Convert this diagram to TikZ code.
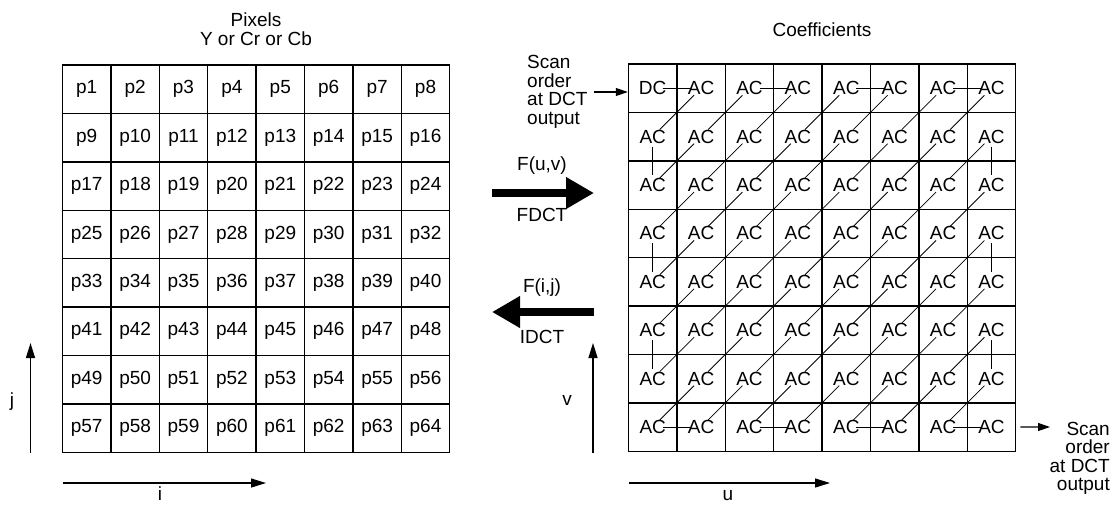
\documentclass[tikz,border=0pt]{standalone}
\usepackage{fontspec}
\setmainfont{Liberation Sans}
\usetikzlibrary{arrows.meta}
\begin{document}
\begin{tikzpicture}[x=1pt,y=-1pt,
  every node/.style={font=\fontsize{19}{18.5}\selectfont},
  cell/.style={draw,line width=1.4pt,minimum size=48.4pt,inner sep=0pt},
  scanline/.style={line width=0.8pt,shorten <=10pt,shorten >=10pt},
  scanarrow/.style={line width=1.1pt,-{Triangle[length=12pt,width=8pt]}},
  axis/.style={line width=1.3pt,-{Triangle[length=15pt,width=9pt]}},
  bigarrow/.style={line width=8pt,-{Triangle[length=28pt,width=30pt]}},
  txt/.style={inner sep=0pt}
]
\useasboundingbox (0,0) rectangle (1116,504);

% titles
\node[txt,align=center] (ttl) at (256,29) {Pixels\\Y or Cr or Cb};
\node[txt] (ttr) at (822,30) {Coefficients};

% left pixel grid
\foreach \r in {0,...,7}{
  \foreach \c in {0,...,7}{
    \pgfmathtruncatemacro\n{\r*8+\c+1}
    \node[cell] (p\n) at ({62.5+48.4*(\c+0.5)},{65+48.4*(\r+0.5)}) {p\n};
  }
}

% right coefficient grid
\foreach \r in {0,...,7}{
  \foreach \c in {0,...,7}{
    \ifnum\numexpr\r+\c\relax=0 \def\lbl{DC}\else\def\lbl{AC}\fi
    \node[cell] (a-\r-\c) at ({628.5+48.4*(\c+0.5)},{64+48.4*(\r+0.5)}) {\lbl};
  }
}

% zigzag scan
\foreach \r/\c [remember=\r as \pr (initially 0), remember=\c as \pc (initially 0)] in
 {0/1,1/0,2/0,1/1,0/2,0/3,1/2,2/1,3/0,4/0,3/1,2/2,1/3,0/4,0/5,1/4,2/3,3/2,4/1,5/0,
  6/0,5/1,4/2,3/3,2/4,1/5,0/6,0/7,1/6,2/5,3/4,4/3,5/2,6/1,7/0,7/1,6/2,5/3,4/4,3/5,
  2/6,1/7,2/7,3/6,4/5,5/4,6/3,7/2,7/3,6/4,5/5,4/6,3/7,4/7,5/6,6/5,7/4,7/5,6/6,5/7,
  6/7,7/6,7/7}{
  \draw[scanline] (a-\pr-\pc.center) -- (a-\r-\c.center);
}

% scan order labels
\node[txt,align=left,anchor=west] (scanin) at (527,92) {Scan\\order\\at DCT\\output};
\draw[scanarrow] ([xshift=6pt]scanin.east) -- (scanin.east -| a-0-0.west);
\coordinate (soend) at (1050,427);
\draw[scanarrow] ([xshift=4pt]a-7-7.east) -- (soend);
\node[txt,align=right,anchor=north east] (scanout) at (1110,422) {Scan\\order\\at DCT\\output};

% transform arrows
\coordinate (f0) at (492,193);
\coordinate (f1) at (594,193);
\draw[bigarrow] (f0) -- (f1);
\node[txt] (fuv) at (542,166) {F(u,v)};
\node[txt] (fdct) at (542,215) {FDCT};
\coordinate (g0) at (594,312);
\coordinate (g1) at (492,312);
\draw[bigarrow] (g0) -- (g1);
\node[txt] (fij) at (542,288) {F(i,j)};
\node[txt] (idct) at (542,337) {IDCT};

% axes
\coordinate (j0) at (30.5,453);
\coordinate (j1) at (30.5,343);
\draw[axis] (j0) -- (j1);
\node[txt] (jl) at (12,402) {j};
\coordinate (i0) at (62.5,483);
\coordinate (i1) at (266,483);
\draw[axis] (i0) -- (i1);
\node[txt] (il) at (160,494) {i};
\coordinate (v0) at (593,453);
\coordinate (v1) at (593,343);
\draw[axis] (v0) -- (v1);
\node[txt] (vl) at (567,400) {v};
\coordinate (u0) at (628.5,483);
\coordinate (u1) at (830,483);
\draw[axis] (u0) -- (u1);
\node[txt] (ul) at (728,496) {u};
\end{tikzpicture}
\end{document}
